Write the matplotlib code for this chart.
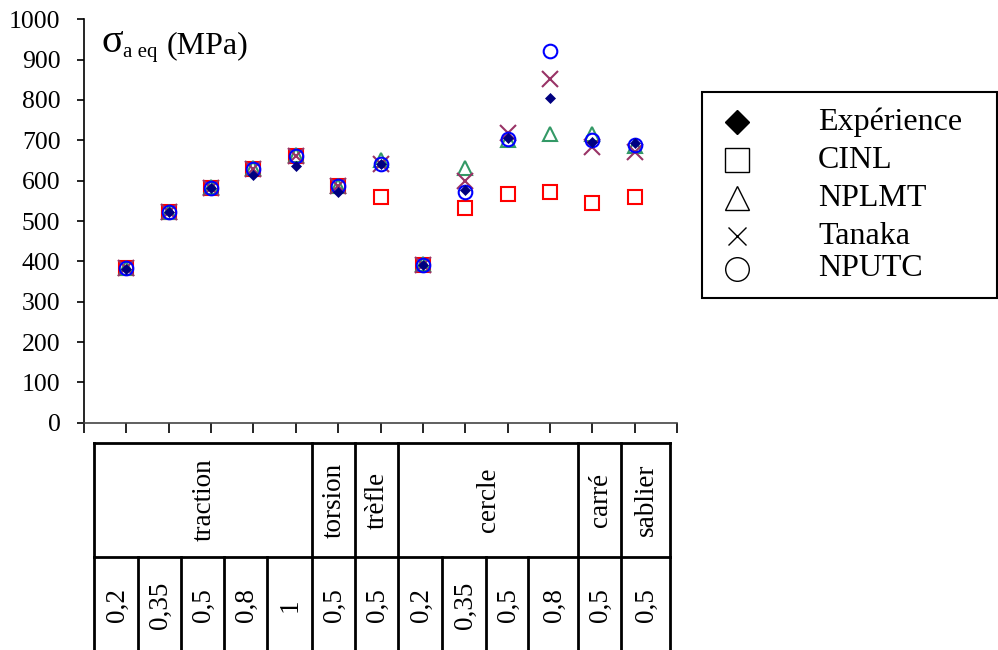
import matplotlib
matplotlib.use("Agg")
import matplotlib.pyplot as plt
import numpy as np
from matplotlib.patches import Rectangle

plt.rcParams['font.family'] = ['Liberation Serif', 'DejaVu Serif']

# ---------------- data ----------------
groups = ["traction", "torsion", "trèfle", "cercle", "carré", "sablier"]
group_sizes = [5, 1, 1, 4, 1, 1]
ratios = ["0,2", "0,35", "0,5", "0,8", "1", "0,5", "0,5",
          "0,2", "0,35", "0,5", "0,8", "0,5", "0,5"]

experience = [380, 522, 582, 614, 636, 572, 641, 390, 577, 705, 804, 696, 693]
cinl       = [383, 523, 583, 630, 662, 586, 560, 392, 533, 568, 573, 545, 560]
nplmt      = [384, 523, 584, 631, 663, 587, 652, 393, 631, 701, 716, 715, 686]
tanaka     = [383, 522, 582, 630, 662, 586, 641, 392, 600, 718, 851, 683, 670]
nputc      = [383, 522, 582, 630, 661, 586, 641, 392, 572, 703, 921, 700, 688]

series_names = ["Expérience", "CINL", "NPLMT", "Tanaka", "NPUTC"]

W, H = 998, 650
fig = plt.figure(figsize=(W / 100, H / 100), dpi=100)

# overlay axes in pixel coordinates for table & legend
ov = fig.add_axes([0, 0, 1, 1])
ov.set_xlim(0, W)
ov.set_ylim(H, 0)
ov.axis('off')

# main axes
L, R, T, B = 84, 677, 19.3, 422.7
ax = fig.add_axes([L / W, 1 - B / H, (R - L) / W, (B - T) / H])
ax.patch.set_alpha(0)

x = np.arange(1, len(ratios) + 1)
ax.plot(x, cinl, ls='none', marker='s', ms=9.6, mfc='none', mec='#FF0000', mew=1.5, zorder=3)
ax.plot(x, nplmt, ls='none', marker='^', ms=10.5, mfc='none', mec='#339966', mew=1.5, zorder=4)
ax.plot(x, tanaka, ls='none', marker='x', ms=11, mec='#993366', mew=1.5, zorder=5)
ax.plot(x, nputc, ls='none', marker='o', ms=9.8, mfc='none', mec='#0000FF', mew=1.5, zorder=6)
ax.plot(x, experience, ls='none', marker='D', ms=5.5, mfc='#000080', mec='#000080', mew=0.5, zorder=7)

ax.set_xlim(0, len(ratios) + 1)
ax.set_ylim(0, 1000)
ax.set_yticks(np.arange(0, 1001, 100))
ax.set_xticks(np.arange(0, len(ratios) + 2))
ax.set_xticklabels([])
ax.tick_params(axis='y', direction='out', length=5, width=1.2, labelsize=18.5, pad=12)
ax.tick_params(axis='x', direction='out', length=7, width=1.2)
for s in ['top', 'right']:
    ax.spines[s].set_visible(False)
for s in ['left', 'bottom']:
    ax.spines[s].set_linewidth(1.2)
ax.spines['bottom'].set_color('#444444')

# y-axis title: sigma, subscript, unit
ov.text(102, 52, 'σ', fontsize=29, ha='left', va='baseline')
ov.text(123, 57, 'a eq', fontsize=15, ha='left', va='baseline')
ov.text(248, 53, '(MPa)', fontsize=23, ha='right', va='baseline')

# ---------------- table ----------------
edges = [94, 138, 181, 224, 267, 312, 355, 398, 442, 486, 528, 578, 621, 670]
top_y, mid_y, bot_y = 443.3, 556.7, 651
lw = 2
ov.plot([edges[0], edges[-1]], [top_y, top_y], color='black', lw=lw, solid_capstyle='projecting')
ov.plot([edges[0], edges[-1]], [mid_y, mid_y], color='black', lw=lw)
for e in edges:
    ov.plot([e, e], [mid_y, bot_y], color='black', lw=lw)
gb = np.concatenate([[0], np.cumsum(group_sizes)])
for g in gb:
    ov.plot([edges[g], edges[g]], [top_y, mid_y], color='black', lw=lw)
for i, name in enumerate(groups):
    xc = (edges[gb[i]] + edges[gb[i + 1]]) / 2
    ov.text(xc + 1, (top_y + mid_y) / 2, name, rotation=90, fontsize=19.5,
            ha='center', va='center')
for i, r in enumerate(ratios):
    xc = (edges[i] + edges[i + 1]) / 2
    ov.text(xc + 1, 605, r, rotation=90, fontsize=19.5, ha='center', va='center')

# ---------------- legend ----------------
ov.add_patch(Rectangle((702, 92), 295, 206, fill=False, edgecolor='black', lw=1.5))
leg_rows = [122, 160, 198, 236, 269]
leg_markers = [dict(marker='D', ms=12, mfc='black', mec='black'),
               dict(marker='s', ms=17, mfc='none', mec='black', mew=1),
               dict(marker='^', ms=17, mfc='none', mec='black', mew=1),
               dict(marker='x', ms=13, mec='black', mew=1),
               dict(marker='o', ms=17, mfc='none', mec='black', mew=1)]
for y, name, mk in zip(leg_rows, series_names, leg_markers):
    ov.plot([737], [y], ls='none', **mk)
    ov.text(818, y, name, fontsize=23, ha='left', va='center')

fig.savefig('out.png', dpi=100)
